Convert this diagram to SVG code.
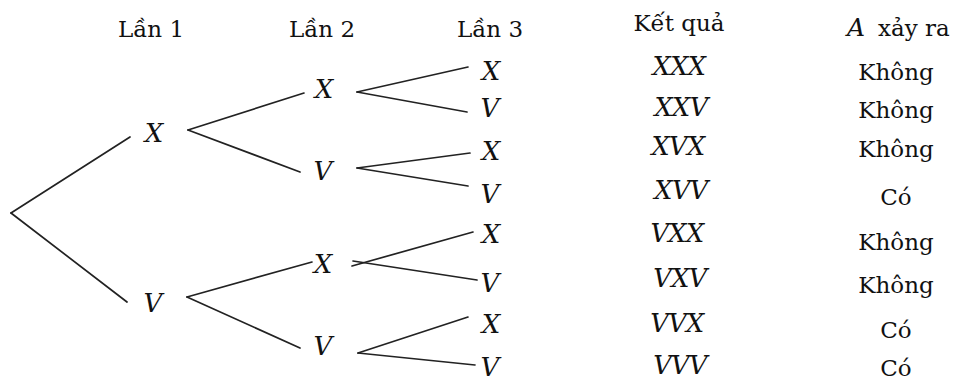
<svg xmlns="http://www.w3.org/2000/svg" width="953" height="382" viewBox="0 0 953 382">
<style>
text{font-family:'DejaVu Serif','Liberation Serif',serif;fill:#111;}
.h{font-size:23px;text-anchor:middle;}
.i{font-size:26px;font-style:italic;text-anchor:middle;}
.r{font-size:25.5px;font-style:italic;text-anchor:middle;letter-spacing:-0.5px;}
.a{font-size:23px;text-anchor:middle;}
.c line{stroke:#222;stroke-width:1.7;stroke-linecap:round;}
</style>
<rect width="953" height="382" fill="#fff"/>
<g id="headers">
<text class="h" x="151" y="37">Lần 1</text>
<text class="h" x="322" y="37">Lần 2</text>
<text class="h" x="490" y="37">Lần 3</text>
<text class="h" x="679" y="31">Kết quả</text>
<text x="847" y="36" style="font-size:25px;font-style:italic">A</text>
<text x="878" y="36" style="font-size:23px">xảy ra</text>
</g>
<g class="c" id="connectors">
<line x1="11" y1="213" x2="130" y2="137"/>
<line x1="11" y1="213" x2="127" y2="302"/>
<line x1="188" y1="130" x2="304" y2="93"/>
<line x1="188" y1="130" x2="300" y2="172"/>
<line x1="187" y1="297" x2="312" y2="262"/>
<line x1="187" y1="297" x2="300" y2="348"/>
<line x1="357" y1="92" x2="468" y2="67"/>
<line x1="357" y1="92" x2="467" y2="112"/>
<line x1="357" y1="168" x2="470" y2="153"/>
<line x1="357" y1="168" x2="468" y2="186"/>
<line x1="352" y1="266" x2="473" y2="232"/>
<line x1="353" y1="261" x2="477" y2="280"/>
<line x1="358" y1="353" x2="468" y2="317"/>
<line x1="358" y1="353" x2="475" y2="365"/>
</g>
<g id="n-X1"><text class="i" x="154" y="142">X</text></g>
<g id="n-V1"><text class="i" x="153" y="312">V</text></g>
<g id="n-XX"><text class="i" x="324" y="98">X</text></g>
<g id="n-XV"><text class="i" x="323" y="180">V</text></g>
<g id="n-VX"><text class="i" x="323" y="273">X</text></g>
<g id="n-VV"><text class="i" x="323" y="355">V</text></g>
<g id="n-XXX"><text class="i" x="491" y="80">X</text></g>
<g id="n-XXV"><text class="i" x="490" y="117">V</text></g>
<g id="n-XVX"><text class="i" x="491" y="160">X</text></g>
<g id="n-XVV"><text class="i" x="490" y="203">V</text></g>
<g id="n-VXX"><text class="i" x="491" y="243">X</text></g>
<g id="n-VXV"><text class="i" x="490" y="292">V</text></g>
<g id="n-VVX"><text class="i" x="491" y="333">X</text></g>
<g id="n-VVV"><text class="i" x="490" y="376">V</text></g>
<g id="results">
<text class="r" x="679" y="75">XXX</text>
<text class="r" x="681" y="116">XXV</text>
<text class="r" x="678" y="155">XVX</text>
<text class="r" x="681" y="199">XVV</text>
<text class="r" x="677" y="242">VXX</text>
<text class="r" x="680" y="287">VXV</text>
<text class="r" x="677" y="332">VVX</text>
<text class="r" x="680" y="374">VVV</text>
</g>
<g id="occurs">
<text class="a" x="896" y="80">Không</text>
<text class="a" x="896" y="118">Không</text>
<text class="a" x="896" y="157">Không</text>
<text class="a" x="896" y="205">Có</text>
<text class="a" x="896" y="250">Không</text>
<text class="a" x="896" y="293">Không</text>
<text class="a" x="896" y="338">Có</text>
<text class="a" x="896" y="376">Có</text>
</g>
</svg>
